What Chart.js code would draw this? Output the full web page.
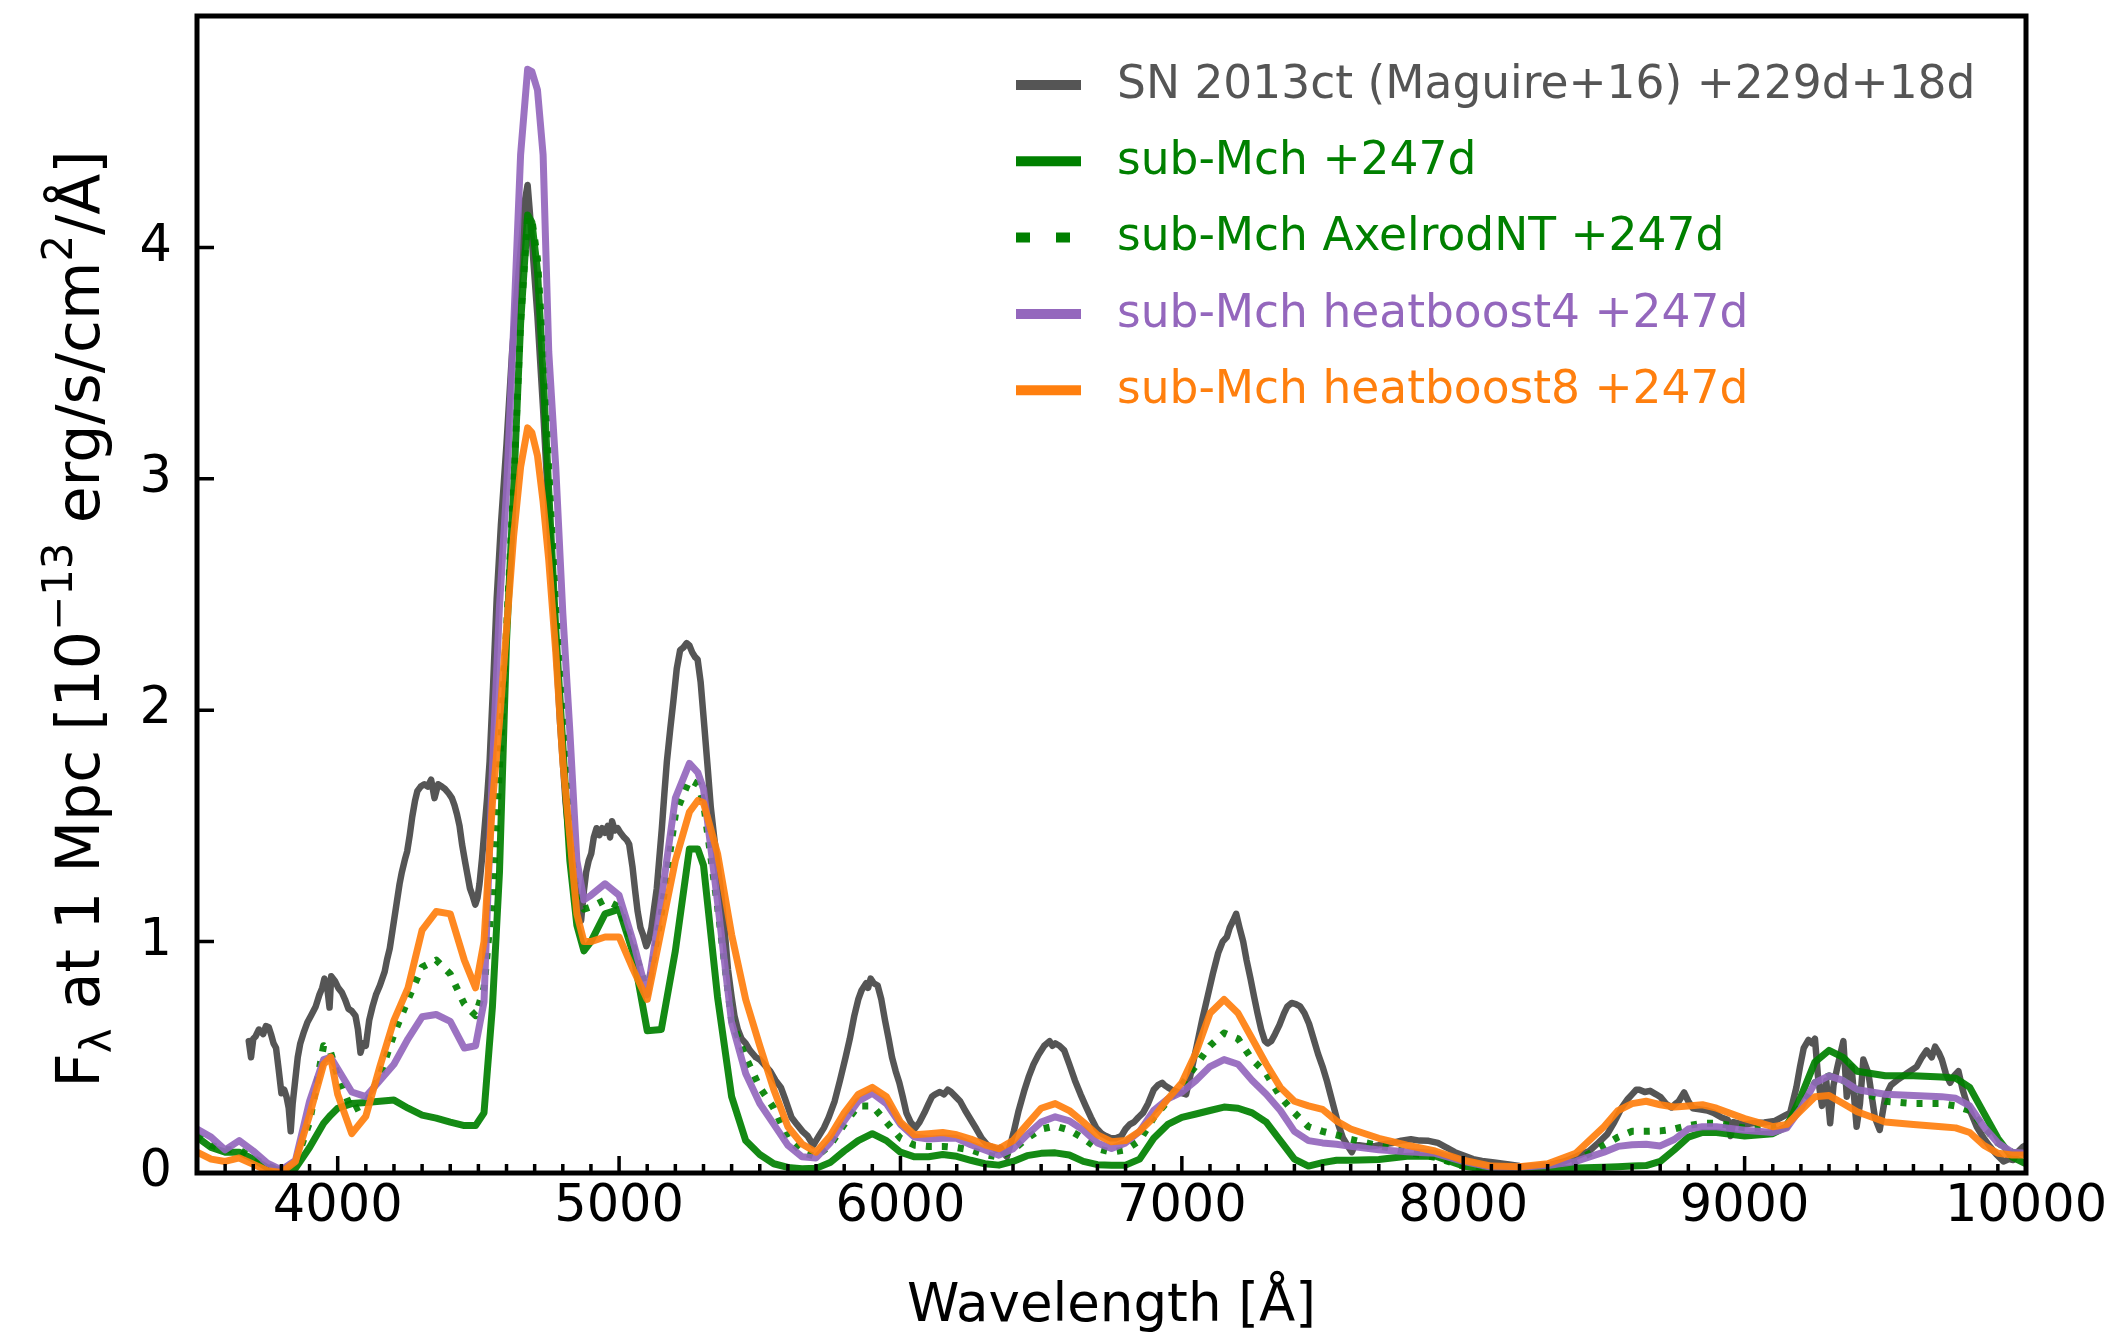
<!DOCTYPE html>
<html><head><meta charset="utf-8">
<script src="https://cdn.jsdelivr.net/npm/chart.js@4.4.1/dist/chart.umd.min.js"></script>
<style>html,body{margin:0;padding:0;background:#fff}#wrap{width:2110px;height:1339px}</style>
</head><body><div id="wrap"><canvas id="c" width="2110" height="1339"></canvas></div>
<script>
// ---- data (wavelength in Angstrom, flux in 1e-13 erg/s/cm^2/A) ----
const modelWave = [3500,3550,3600,3650,3700,3750,3800,3850,3900,3950,3975,4000,4050,4100,4150,4200,4250,4300,4350,4400,4450,4490,4520,4550,4575,4600,4625,4650,4675,4690,4710,4730,4750,4775,4800,4825,4850,4875,4900,4950,5000,5050,5100,5150,5200,5250,5280,5300,5350,5400,5450,5500,5550,5600,5650,5700,5750,5800,5850,5900,5950,6000,6050,6100,6150,6200,6250,6300,6350,6400,6450,6500,6550,6600,6650,6700,6750,6800,6850,6900,6950,7000,7050,7100,7150,7200,7250,7300,7350,7400,7450,7500,7550,7600,7700,7800,7900,8000,8100,8200,8300,8400,8500,8550,8600,8650,8700,8750,8800,8850,8900,9000,9100,9150,9200,9250,9300,9350,9400,9500,9600,9700,9750,9800,9850,9900,9950,10000];
const subMch = [0.155,0.11,0.09,0.09,0.06,0.023,0.01,0.02,0.11,0.215,0.25,0.28,0.30,0.305,0.31,0.315,0.28,0.25,0.237,0.22,0.205,0.205,0.26,0.72,1.3,2.3,2.95,3.67,4.14,4.11,3.9,3.45,2.95,2.35,1.85,1.35,1.07,0.96,1.0,1.12,1.14,0.95,0.615,0.62,0.96,1.40,1.40,1.33,0.76,0.33,0.14,0.08,0.04,0.024,0.018,0.02,0.045,0.095,0.14,0.17,0.14,0.09,0.07,0.07,0.08,0.072,0.055,0.04,0.034,0.05,0.075,0.085,0.087,0.078,0.05,0.036,0.034,0.034,0.06,0.15,0.21,0.24,0.255,0.27,0.285,0.28,0.26,0.22,0.14,0.06,0.03,0.045,0.055,0.055,0.058,0.072,0.074,0.03,0.012,0.012,0.017,0.022,0.025,0.027,0.03,0.032,0.05,0.10,0.155,0.175,0.175,0.16,0.17,0.20,0.33,0.48,0.53,0.50,0.44,0.42,0.42,0.415,0.41,0.37,0.26,0.15,0.07,0.04];
const subMchAxelrodNT = [0.16,0.12,0.10,0.10,0.065,0.03,0.012,0.04,0.22,0.55,0.52,0.42,0.27,0.30,0.42,0.60,0.75,0.89,0.92,0.86,0.73,0.68,0.80,1.2,1.75,2.35,2.97,3.68,4.13,4.12,3.95,3.55,3.05,2.45,1.95,1.45,1.2,1.14,1.15,1.18,1.15,0.98,0.78,1.12,1.55,1.70,1.68,1.60,1.15,0.66,0.50,0.37,0.28,0.15,0.09,0.07,0.12,0.21,0.29,0.29,0.22,0.15,0.12,0.115,0.115,0.11,0.10,0.08,0.068,0.10,0.15,0.19,0.203,0.185,0.15,0.105,0.09,0.10,0.14,0.24,0.31,0.38,0.465,0.55,0.605,0.58,0.49,0.43,0.33,0.26,0.20,0.18,0.165,0.145,0.118,0.09,0.068,0.03,0.023,0.023,0.03,0.05,0.12,0.155,0.18,0.18,0.182,0.19,0.205,0.215,0.215,0.195,0.195,0.21,0.29,0.39,0.42,0.40,0.36,0.31,0.30,0.30,0.29,0.27,0.20,0.13,0.09,0.07];
const heatboost4 = [0.19,0.155,0.10,0.14,0.095,0.043,0.013,0.055,0.31,0.49,0.50,0.45,0.35,0.33,0.40,0.47,0.58,0.675,0.685,0.655,0.54,0.55,0.74,1.75,2.45,2.95,3.65,4.4,4.77,4.76,4.68,4.4,3.55,3.05,2.42,1.91,1.35,1.18,1.2,1.25,1.20,1.0,0.77,1.18,1.62,1.77,1.73,1.66,1.17,0.65,0.43,0.30,0.21,0.12,0.07,0.065,0.13,0.225,0.31,0.345,0.30,0.21,0.155,0.147,0.15,0.15,0.122,0.10,0.077,0.105,0.165,0.22,0.243,0.225,0.185,0.13,0.106,0.13,0.18,0.27,0.32,0.35,0.40,0.46,0.49,0.47,0.40,0.34,0.27,0.18,0.14,0.13,0.124,0.115,0.10,0.092,0.085,0.05,0.025,0.025,0.032,0.05,0.09,0.115,0.122,0.124,0.117,0.145,0.19,0.20,0.20,0.185,0.175,0.195,0.28,0.39,0.42,0.40,0.36,0.34,0.335,0.33,0.323,0.29,0.20,0.13,0.09,0.085];
const heatboost8 = [0.09,0.06,0.05,0.065,0.038,0.01,0.002,0.05,0.25,0.47,0.50,0.34,0.17,0.245,0.46,0.66,0.80,1.05,1.13,1.12,0.92,0.80,1.00,1.60,1.95,2.35,2.75,3.05,3.22,3.20,3.10,2.90,2.65,2.25,1.78,1.45,1.12,1.0,1.0,1.02,1.02,0.88,0.75,1.05,1.35,1.56,1.61,1.60,1.38,1.03,0.75,0.55,0.36,0.20,0.125,0.09,0.16,0.26,0.34,0.37,0.33,0.22,0.165,0.17,0.175,0.165,0.147,0.122,0.105,0.14,0.21,0.28,0.30,0.27,0.22,0.165,0.135,0.14,0.18,0.24,0.32,0.39,0.52,0.69,0.75,0.69,0.58,0.47,0.37,0.31,0.29,0.275,0.225,0.19,0.15,0.12,0.095,0.055,0.03,0.027,0.04,0.085,0.20,0.27,0.30,0.31,0.295,0.285,0.29,0.295,0.28,0.235,0.20,0.21,0.27,0.33,0.335,0.30,0.265,0.22,0.21,0.20,0.195,0.175,0.12,0.085,0.078,0.078];
const obsWave = [3684,3692,3700,3708,3720,3735,3745,3755,3763,3772,3781,3790,3800,3810,3818,3826,3833,3840,3849,3858,3867,3880,3892,3905,3922,3935,3945,3953,3962,3971,3977,3990,4002,4015,4026,4038,4050,4063,4072,4081,4090,4100,4112,4124,4136,4150,4167,4175,4185,4195,4210,4220,4228,4240,4247,4256,4265,4275,4283,4295,4308,4320,4332,4344,4357,4370,4381,4395,4406,4415,4424,4433,4442,4452,4461,4470,4479,4489,4497,4504,4513,4522,4531,4540,4552,4565,4580,4600,4620,4640,4655,4665,4675,4683,4695,4710,4730,4750,4770,4790,4810,4830,4850,4865,4875,4883,4892,4901,4910,4920,4930,4940,4950,4960,4968,4975,4985,4995,5005,5018,5027,5036,5048,5057,5066,5076,5085,5097,5106,5115,5125,5134,5143,5152,5161,5170,5182,5193,5205,5217,5228,5240,5250,5260,5270,5279,5290,5303,5315,5326,5338,5350,5362,5375,5387,5400,5410,5422,5435,5450,5465,5486,5500,5515,5537,5556,5575,5590,5613,5632,5652,5670,5690,5700,5710,5728,5745,5766,5785,5805,5820,5836,5850,5862,5878,5885,5894,5905,5919,5932,5945,5958,5970,5983,5996,6008,6021,6036,6053,6068,6085,6100,6112,6123,6140,6155,6168,6180,6196,6212,6230,6250,6270,6289,6310,6330,6340,6355,6365,6378,6390,6403,6420,6441,6457,6473,6490,6511,6530,6540,6550,6565,6582,6600,6620,6640,6658,6677,6696,6715,6730,6747,6765,6785,6800,6815,6830,6845,6862,6880,6900,6915,6930,6938,6950,6964,6985,7000,7015,7030,7053,7072,7091,7110,7129,7145,7160,7170,7182,7193,7205,7218,7230,7244,7257,7269,7282,7295,7305,7318,7331,7347,7363,7375,7390,7405,7420,7436,7452,7468,7484,7500,7515,7528,7541,7556,7572,7588,7604,7615,7630,7660,7687,7720,7750,7780,7814,7845,7877,7910,7941,7970,8004,8035,8067,8110,8156,8200,8258,8310,8359,8400,8448,8480,8512,8537,8562,8585,8600,8615,8626,8645,8664,8685,8702,8720,8740,8755,8766,8785,8800,8816,8840,8867,8890,8918,8940,8950,8960,8994,9030,9070,9108,9146,9162,9184,9197,9210,9227,9240,9250,9262,9275,9290,9304,9316,9330,9351,9363,9380,9398,9410,9422,9440,9463,9480,9500,9520,9541,9576,9612,9630,9647,9665,9677,9690,9701,9715,9730,9745,9760,9775,9790,9808,9825,9850,9872,9895,9920,9940,9955,9970,9990,10000];
const obsFlux = [0.57,0.50,0.58,0.59,0.62,0.60,0.635,0.63,0.60,0.56,0.54,0.45,0.345,0.36,0.33,0.28,0.18,0.30,0.40,0.50,0.56,0.61,0.65,0.68,0.72,0.77,0.80,0.84,0.81,0.715,0.85,0.83,0.80,0.78,0.75,0.71,0.70,0.68,0.62,0.52,0.56,0.55,0.66,0.72,0.77,0.81,0.87,0.92,0.97,1.05,1.17,1.25,1.30,1.36,1.39,1.46,1.54,1.61,1.65,1.67,1.68,1.67,1.70,1.62,1.68,1.67,1.66,1.64,1.62,1.59,1.55,1.50,1.42,1.35,1.29,1.23,1.20,1.16,1.19,1.25,1.36,1.49,1.62,1.78,2.10,2.48,2.80,3.15,3.55,3.85,4.05,4.20,4.27,4.15,3.95,3.70,3.30,2.85,2.40,1.95,1.60,1.35,1.20,1.09,1.22,1.30,1.35,1.38,1.45,1.49,1.46,1.49,1.47,1.50,1.45,1.52,1.48,1.49,1.47,1.45,1.44,1.42,1.32,1.22,1.13,1.06,1.03,0.98,1.01,1.06,1.15,1.23,1.36,1.49,1.64,1.78,1.92,2.04,2.18,2.26,2.27,2.29,2.28,2.25,2.23,2.22,2.12,1.93,1.75,1.58,1.45,1.33,1.22,1.05,0.88,0.76,0.68,0.62,0.58,0.56,0.53,0.50,0.49,0.47,0.44,0.40,0.37,0.32,0.24,0.21,0.18,0.16,0.12,0.14,0.16,0.195,0.24,0.31,0.40,0.50,0.58,0.68,0.75,0.79,0.82,0.80,0.84,0.82,0.81,0.75,0.66,0.58,0.50,0.44,0.39,0.33,0.26,0.22,0.195,0.22,0.26,0.30,0.33,0.34,0.35,0.34,0.36,0.35,0.33,0.31,0.27,0.23,0.19,0.15,0.12,0.11,0.10,0.11,0.09,0.07,0.12,0.18,0.27,0.36,0.42,0.47,0.51,0.55,0.57,0.55,0.56,0.55,0.53,0.47,0.40,0.34,0.29,0.24,0.195,0.17,0.16,0.15,0.15,0.16,0.19,0.21,0.22,0.24,0.26,0.30,0.36,0.38,0.39,0.38,0.37,0.36,0.35,0.345,0.34,0.42,0.55,0.66,0.76,0.86,0.95,1.00,1.02,1.06,1.09,1.12,1.06,1.00,0.92,0.84,0.76,0.69,0.62,0.57,0.56,0.57,0.60,0.64,0.69,0.72,0.735,0.73,0.72,0.69,0.645,0.58,0.515,0.46,0.40,0.34,0.28,0.21,0.153,0.12,0.09,0.12,0.12,0.115,0.117,0.125,0.13,0.14,0.146,0.14,0.139,0.13,0.11,0.09,0.074,0.06,0.052,0.045,0.038,0.03,0.026,0.035,0.05,0.07,0.095,0.13,0.168,0.22,0.28,0.32,0.34,0.36,0.36,0.35,0.355,0.34,0.327,0.30,0.283,0.30,0.31,0.348,0.31,0.28,0.275,0.27,0.26,0.24,0.23,0.16,0.22,0.21,0.215,0.218,0.225,0.25,0.26,0.37,0.46,0.54,0.575,0.56,0.58,0.40,0.29,0.40,0.215,0.38,0.46,0.57,0.33,0.46,0.20,0.30,0.49,0.43,0.24,0.186,0.33,0.38,0.40,0.43,0.46,0.50,0.53,0.50,0.546,0.52,0.49,0.43,0.39,0.42,0.44,0.36,0.30,0.25,0.20,0.15,0.114,0.08,0.05,0.06,0.056,0.09,0.114,0.12];
const xTicks = [4000,5000,6000,7000,8000,9000,10000];
const xMinorStep = 100;
const yTicks = [0,1,2,3,4];
const seriesLabels = ['SN 2013ct (Maguire+16) +229d+18d','sub-Mch +247d','sub-Mch AxelrodNT +247d','sub-Mch heatboost4 +247d','sub-Mch heatboost8 +247d'];
const seriesColors = ['#555555','#008000','#008000','#9467bd','#ff7f0e'];

const FONT = "'DejaVu Sans', Verdana, sans-serif";
const pts = (xs, ys) => xs.map((x, i) => ({x: x, y: ys[i]}));
const alpha = (hex, a) => { const n = parseInt(hex.slice(1), 16); return `rgba(${n>>16},${(n>>8)&255},${n&255},${a})`; };

const decorPlugin = {
  id: 'decor',
  afterDraw(chart) {
    const {ctx, chartArea: {left, right, top, bottom}, scales: {x, y}} = chart;
    ctx.save();
    ctx.strokeStyle = '#000';
    ctx.lineCap = 'butt';
    ctx.lineWidth = 3.5;
    ctx.beginPath();
    for (let v = x.min + xMinorStep; v < x.max; v += xMinorStep) {
      const px = x.getPixelForValue(v);
      const len = xTicks.includes(v) ? 17 : 9;
      ctx.moveTo(px, bottom); ctx.lineTo(px, bottom - len);
    }
    for (const v of yTicks) {
      const py = y.getPixelForValue(v);
      ctx.moveTo(left, py); ctx.lineTo(left + 17, py);
    }
    ctx.stroke();
    ctx.lineWidth = 5;
    ctx.lineJoin = 'miter';
    ctx.strokeRect(left, top, right - left, bottom - top);

    // legend
    const rowY0 = 85, rowStep = 76.3, hx0 = 1016, hx1 = 1081, tx = 1117;
    ctx.font = `45.5px ${FONT}`;
    ctx.textBaseline = 'middle';
    ctx.textAlign = 'left';
    seriesLabels.forEach((lab, i) => {
      const yy = rowY0 + i * rowStep;
      ctx.strokeStyle = seriesColors[i];
      ctx.lineWidth = 10;
      ctx.setLineDash(i === 2 ? [14, 26] : []);
      ctx.beginPath(); ctx.moveTo(hx0, yy); ctx.lineTo(hx1, yy); ctx.stroke();
      ctx.setLineDash([]);
      ctx.fillStyle = seriesColors[i];
      ctx.fillText(lab, tx, yy + 1);
    });

    // y axis title with sub/superscripts
    const base = 60, small = 42;
    const segs = [['F', base, 0], ['\u03bb', small, 12], [' at 1 Mpc [10', base, 0], ['\u221213', small, -27], [' erg/s/cm', base, 0], ['2', small, -27], ['/\u00c5]', base, 0]];
    let total = 0;
    segs.forEach(s => { ctx.font = `${s[1]}px ${FONT}`; s.push(ctx.measureText(s[0]).width); total += s[3]; });
    ctx.translate(99, 619);
    ctx.rotate(-Math.PI / 2);
    ctx.fillStyle = '#000';
    ctx.textBaseline = 'alphabetic';
    let cx = -total / 2;
    segs.forEach(s => { ctx.font = `${s[1]}px ${FONT}`; ctx.fillText(s[0], cx, s[2]); cx += s[3]; });
    ctx.restore();
  }
};

const mk = (i, xs, ys, extra) => Object.assign({
  label: seriesLabels[i], data: pts(xs, ys), showLine: true, pointRadius: 0, pointHoverRadius: 0,
  borderColor: i === 0 ? seriesColors[0] : alpha(seriesColors[i], 0.92), borderWidth: 7, tension: 0,
  borderJoinStyle: 'round', borderCapStyle: 'round', fill: false
}, extra || {});

const noPad = s => { s.paddingTop = 0; s.paddingBottom = 0; s.paddingLeft = 0; s.paddingRight = 0; };

new Chart(document.getElementById('c').getContext('2d'), {
  type: 'scatter',
  data: {
    datasets: [
      mk(0, obsWave, obsFlux, {borderWidth: 6.5, order: 5}),
      mk(1, modelWave, subMch, {order: 4}),
      mk(2, modelWave, subMchAxelrodNT, {order: 3, borderDash: [6, 10], borderCapStyle: 'butt'}),
      mk(3, modelWave, heatboost4, {order: 2}),
      mk(4, modelWave, heatboost8, {order: 1})
    ]
  },
  options: {
    responsive: false, animation: false, devicePixelRatio: 1,
    layout: {padding: {top: 16, right: 84, left: 0, bottom: 0}},
    plugins: {legend: {display: false}, tooltip: {enabled: false}},
    scales: {
      x: {
        type: 'linear', min: 3500, max: 10000,
        afterBuildTicks: s => { s.ticks = xTicks.map(v => ({value: v})); },
        afterFit: s => { s.height = 166; noPad(s); },
        grid: {display: false, drawTicks: false}, border: {display: false},
        ticks: {font: {family: FONT, size: 51}, color: '#000', padding: 4, maxRotation: 0, autoSkip: false, callback: v => String(v)},
        title: {display: true, text: 'Wavelength [\u00c5]', font: {family: FONT, size: 53}, color: '#000', padding: {top: 0, bottom: 0}}
      },
      y: {
        type: 'linear', min: 0, max: 5,
        afterBuildTicks: s => { s.ticks = yTicks.map(v => ({value: v})); },
        afterFit: s => { s.width = 197; noPad(s); },
        grid: {display: false, drawTicks: false}, border: {display: false},
        ticks: {font: {family: FONT, size: 51}, color: '#000', padding: 25, callback: v => String(v)}
      }
    }
  },
  plugins: [decorPlugin]
});
</script></body></html>
